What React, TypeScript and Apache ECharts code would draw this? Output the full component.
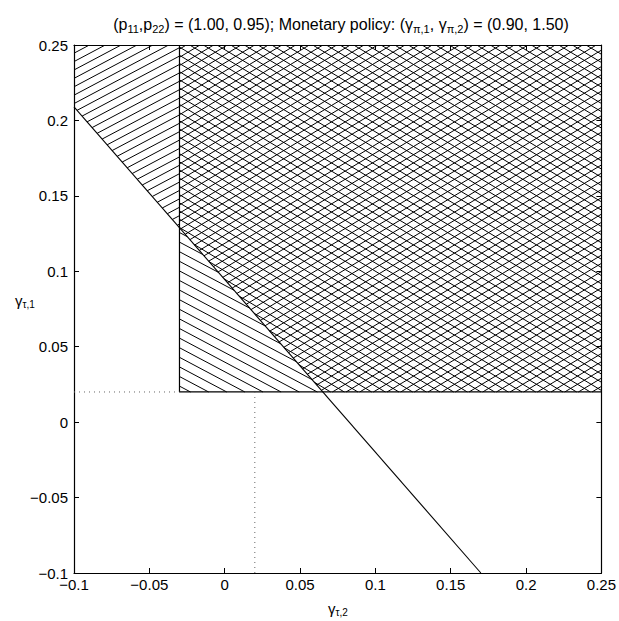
import React, { useEffect, useRef } from 'react';
import * as echarts from 'echarts';

// ---- data ----
const axisMin = -0.1;
const axisMax = 0.25;
const axisStep = 0.05;
// boundary line: start and end points (gamma_tau,2 , gamma_tau,1)
const boundaryX = [-0.1, 0.17];
const boundaryY = [0.209, -0.1];
// crosshatched rectangle: lower-left corner and upper-right corner
const rectX = [-0.03, 0.25];
const rectY = [0.02, 0.25];
// reference point marked with dotted lines
const refPoint = [0.02, 0.02];

const FONT = 'Liberation Sans, Arial, Helvetica, sans-serif';

const lineAt = (x: number) =>
  boundaryY[0] + ((x - boundaryX[0]) * (boundaryY[1] - boundaryY[0])) / (boundaryX[1] - boundaryX[0]);
const xAtY = (y: number) =>
  boundaryX[0] + ((y - boundaryY[0]) * (boundaryX[1] - boundaryX[0])) / (boundaryY[1] - boundaryY[0]);

// above the boundary line, left of the rectangle: single hatch "/"
const regionLeft: number[][] = [
  [axisMin, lineAt(axisMin)],
  [axisMin, rectY[1]],
  [rectX[0], rectY[1]],
  [rectX[0], lineAt(rectX[0])],
];
// inside the rectangle, below the boundary line: single hatch "\"
const regionTri: number[][] = [
  [rectX[0], lineAt(rectX[0])],
  [rectX[0], rectY[0]],
  [xAtY(rectY[0]), rectY[0]],
];
// inside the rectangle and above the boundary line: crosshatch
const regionCross: number[][] = [
  [rectX[0], lineAt(rectX[0])],
  [rectX[0], rectY[1]],
  [rectX[1], rectY[1]],
  [rectX[1], rectY[0]],
  [xAtY(rectY[0]), rectY[0]],
];

function fmt(v: number) {
  const r = Math.round(v * 1000) / 1000;
  if (r === 0) return '0';
  return r < 0 ? '\u2212' + String(-r) : String(r);
}

function hatchLines(poly: number[][], slope: number, spacing: number, offset: number) {
  const cx = poly.reduce((s, p) => s + p[0], 0) / poly.length;
  const cy = poly.reduce((s, p) => s + p[1], 0) / poly.length;
  const vals = poly.map((p) => p[1] - slope * p[0]);
  const cmin = Math.min(...vals);
  const cmax = Math.max(...vals);
  const out: any[] = [];
  for (let c = Math.ceil((cmin - offset) / spacing) * spacing + offset; c <= cmax; c += spacing) {
    let lo = -Infinity;
    let hi = Infinity;
    let ok = true;
    for (let i = 0; i < poly.length; i++) {
      const a = poly[i];
      const b = poly[(i + 1) % poly.length];
      let nx = -(b[1] - a[1]);
      let ny = b[0] - a[0];
      if (nx * (cx - a[0]) + ny * (cy - a[1]) < 0) {
        nx = -nx;
        ny = -ny;
      }
      const A = nx + ny * slope;
      const B = ny * (c - a[1]) - nx * a[0];
      if (Math.abs(A) < 1e-9) {
        if (B < 0) {
          ok = false;
          break;
        }
      } else if (A > 0) lo = Math.max(lo, -B / A);
      else hi = Math.min(hi, -B / A);
    }
    if (ok && hi - lo > 0.5) {
      out.push({
        type: 'line',
        shape: { x1: lo, y1: slope * lo + c, x2: hi, y2: slope * hi + c },
        style: { stroke: '#000', lineWidth: 1 },
      });
    }
  }
  return out;
}

export default function App() {
  const ref = useRef<HTMLDivElement>(null);
  useEffect(() => {
    document.body.style.margin = '0';
    const chart = echarts.init(ref.current!, undefined, { renderer: 'svg' });
    const axisCommon = {
      type: 'value' as const,
      min: axisMin,
      max: axisMax,
      interval: axisStep,
      splitLine: { show: false },
      axisLine: { show: true, onZero: false, lineStyle: { color: '#000', width: 1.2 } },
      axisTick: { show: true, inside: true, length: 5, lineStyle: { color: '#000', width: 1 } },
    };
    const labelCommon = {
      formatter: fmt,
      color: '#000',
      fontSize: 15,
      fontFamily: FONT,
    };
    const sub = (size: number, pad: number) => ({
      s: { fontSize: size, fontFamily: FONT, color: '#000', padding: [pad, 0, 0, 0] },
    });
    chart.setOption({
      animation: false,
      backgroundColor: '#fff',
      grid: { left: 74, right: 17, top: 45, bottom: 48, containLabel: false },
      xAxis: [
        { ...axisCommon, position: 'bottom', axisLabel: { ...labelCommon, margin: 4 } },
        { ...axisCommon, position: 'top', axisLabel: { show: false } },
      ],
      yAxis: [
        { ...axisCommon, position: 'left', axisLabel: { ...labelCommon, margin: 6 } },
        { ...axisCommon, position: 'right', axisLabel: { show: false } },
      ],
      graphic: [
        {
          type: 'text',
          x: 341,
          y: 24,
          style: {
            text: '(p{s|11},p{s|22}) = (1.00, 0.95); Monetary policy: (\u03b3{s|\u03c0,1}, \u03b3{s|\u03c0,2}) = (0.90, 1.50)',
            fontSize: 16,
            fontFamily: FONT,
            fill: '#000',
            align: 'center',
            verticalAlign: 'middle',
            rich: sub(11, 9),
          },
        },
        {
          type: 'text',
          x: 338,
          y: 608,
          style: {
            text: '\u03b3{s|\u03c4,2}',
            fontSize: 15,
            fontFamily: FONT,
            fill: '#000',
            align: 'center',
            verticalAlign: 'middle',
            rich: sub(10, 8),
          },
        },
        {
          type: 'text',
          x: 25,
          y: 300,
          style: {
            text: '\u03b3{s|\u03c4,1}',
            fontSize: 15,
            fontFamily: FONT,
            fill: '#000',
            align: 'center',
            verticalAlign: 'middle',
            rich: sub(10, 8),
          },
        },
      ],
      series: [
        {
          type: 'custom',
          silent: true,
          clip: true,
          data: [[0, 0]],
          renderItem: (_params: any, api: any) => {
            const pl = regionLeft.map((p) => api.coord(p));
            const pt = regionTri.map((p) => api.coord(p));
            const pc = regionCross.map((p) => api.coord(p));
            return {
              type: 'group',
              children: [
                ...hatchLines(pl, -0.53, 8.4, 0),
                ...hatchLines(pt, 0.53, 9.6, 3),
                ...hatchLines(pc, -0.6, 8.2, 1),
                ...hatchLines(pc, 0.6, 8.2, 5),
              ],
            };
          },
          z: 1,
        },
        {
          type: 'line',
          data: [
            [rectX[0], rectY[1]],
            [rectX[0], rectY[0]],
            [rectX[1], rectY[0]],
          ],
          symbol: 'none',
          lineStyle: { color: '#000', width: 1.2 },
          z: 3,
        },
        {
          type: 'line',
          data: [
            [boundaryX[0], boundaryY[0]],
            [boundaryX[1], boundaryY[1]],
          ],
          symbol: 'none',
          lineStyle: { color: '#000', width: 1.1 },
          z: 3,
        },
        {
          type: 'line',
          data: [
            [axisMin, refPoint[1]],
            [rectX[0], refPoint[1]],
          ],
          symbol: 'none',
          lineStyle: { color: '#666', width: 1, type: [1, 4] },
          z: 3,
        },
        {
          type: 'line',
          data: [
            [refPoint[0], axisMin],
            [refPoint[0], refPoint[1]],
          ],
          symbol: 'none',
          lineStyle: { color: '#666', width: 1, type: [1, 4] },
          z: 3,
        },
      ],
    });
    return () => chart.dispose();
  }, []);
  return <div ref={ref} style={{ width: 619, height: 621 }} />;
}
